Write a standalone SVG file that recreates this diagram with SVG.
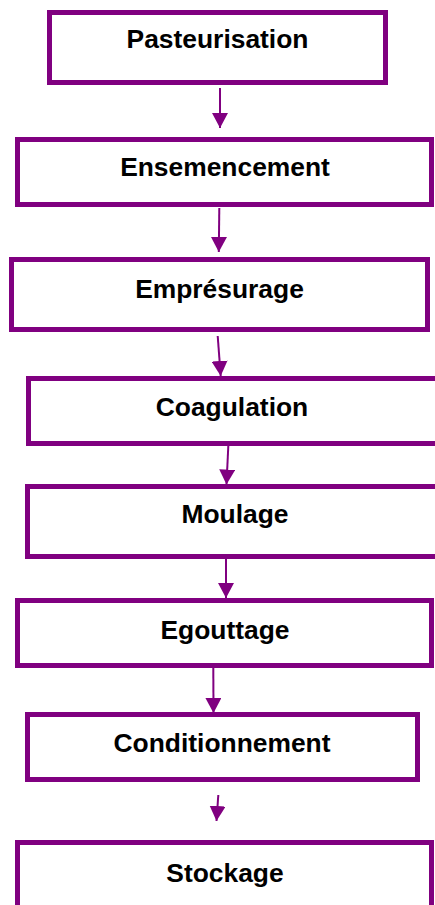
<svg xmlns="http://www.w3.org/2000/svg" width="435" height="905" viewBox="0 0 435 905">
  <defs>
    <style>
      .box { fill: #ffffff; stroke: #800080; stroke-width: 5; }
      .lbl { font-family: "Liberation Sans", Arial, sans-serif; font-weight: bold; font-size: 26.4px; fill: #000000; text-anchor: middle; }
      .conn { stroke: #800080; stroke-width: 2; fill: none; }
    </style>
    <marker id="arrow" viewBox="0 0 15 16" refX="15" refY="8" markerWidth="15" markerHeight="16" markerUnits="userSpaceOnUse" orient="auto">
      <path d="M0,0 L15,8 L0,16 z" fill="#800080"/>
    </marker>
  </defs>
  <rect width="435" height="905" fill="#ffffff"/>

  <g id="connectors">
    <path class="conn" d="M220,88 L220,128" marker-end="url(#arrow)"/>
    <path class="conn" d="M219.3,208 L218.8,252" marker-end="url(#arrow)"/>
    <path class="conn" d="M217.7,336 L220.7,376" marker-end="url(#arrow)"/>
    <path class="conn" d="M228.3,446 L226.5,484.5" marker-end="url(#arrow)"/>
    <path class="conn" d="M226,559 L226,598" marker-end="url(#arrow)"/>
    <path class="conn" d="M213.3,668 L213.5,713" marker-end="url(#arrow)"/>
    <path class="conn" d="M218.3,795 L216.5,821" marker-end="url(#arrow)"/>
  </g>

  <g id="pasteurisation">
    <rect class="box" x="49.5" y="12.5" width="336" height="70"/>
    <text class="lbl" x="217.5" y="48">Pasteurisation</text>
  </g>
  <g id="ensemencement">
    <rect class="box" x="17.5" y="139.5" width="414" height="65"/>
    <text class="lbl" x="225" y="176">Ensemencement</text>
  </g>
  <g id="empresurage">
    <rect class="box" x="11.5" y="259.5" width="416" height="70"/>
    <text class="lbl" x="219.5" y="298">Emprésurage</text>
  </g>
  <g id="coagulation">
    <rect class="box" x="28.5" y="378.5" width="420" height="65"/>
    <text class="lbl" x="232" y="416">Coagulation</text>
  </g>
  <g id="moulage">
    <rect class="box" x="27.5" y="486.5" width="420" height="70"/>
    <text class="lbl" x="235" y="523">Moulage</text>
  </g>
  <g id="egouttage">
    <rect class="box" x="17.5" y="600.5" width="414" height="65"/>
    <text class="lbl" x="225" y="639">Egouttage</text>
  </g>
  <g id="conditionnement">
    <rect class="box" x="27.5" y="714.5" width="390" height="65"/>
    <text class="lbl" x="222" y="752">Conditionnement</text>
  </g>
  <g id="stockage">
    <rect class="box" x="17.5" y="842.5" width="414" height="80"/>
    <text class="lbl" x="225" y="882">Stockage</text>
  </g>
</svg>
